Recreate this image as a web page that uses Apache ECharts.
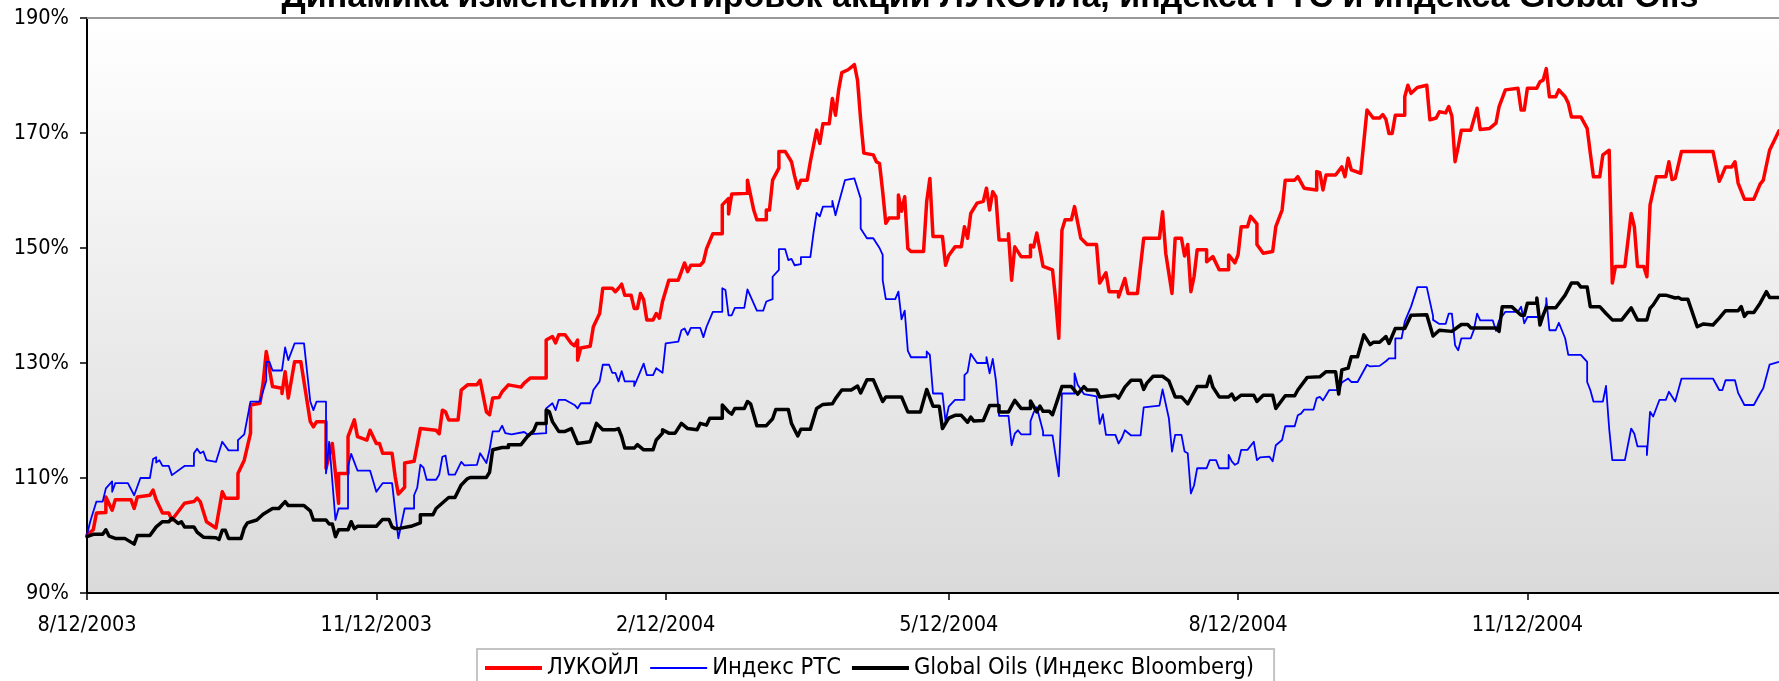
<!DOCTYPE html>
<html>
<head>
<meta charset="utf-8">
<title>ЛУКОЙЛ, РТС, Global Oils</title>
<script src="https://cdn.jsdelivr.net/npm/echarts@6/dist/echarts.min.js"></script>
<style>
  html, body { margin: 0; padding: 0; background: #fff; }
  #chart { width: 1779px; height: 681px; }
</style>
</head>
<body>
<div id="chart"></div>
<script>
// days counted from 12 Aug 2003, values in % of the start level
const startDate = '2003-08-12';
const endDay = 538;
const tickDates = ['2003-08-12', '2003-11-12', '2004-02-12', '2004-05-12', '2004-08-12', '2004-11-12'];

const lukoilDays = [0,2,3,6,6,8,9,14,15,16,20,21,22,24,26,27,31,34,35,36,38,41,43,44,48,48,50,52,52,55,56,57,59,62,62,63,64,66,68,71,72,73,76,76,78,80,80,83,83,85,86,89,90,92,93,94,97,98,99,101,101,104,106,111,112,113,114,115,118,119,121,124,125,127,128,129,131,132,134,138,139,141,146,146,148,149,150,152,154,155,156,156,157,160,161,163,164,167,168,169,170,171,173,174,175,176,177,178,180,181,182,183,185,188,189,190,191,192,195,196,197,199,202,202,204,204,205,210,210,212,213,216,216,217,218,220,220,222,224,225,226,227,229,230,232,233,234,236,237,238,239,240,242,244,245,246,247,250,251,252,253,254,255,258,258,259,260,261,262,266,267,268,269,272,273,274,276,278,279,280,281,283,285,286,287,288,289,290,293,293,294,295,297,300,300,301,302,304,307,308,309,310,311,313,314,316,318,321,322,324,325,328,328,330,331,334,336,341,342,343,345,346,348,349,350,351,352,353,356,356,358,360,363,363,365,366,367,369,370,372,372,374,377,378,380,381,384,385,387,391,391,392,393,394,397,399,400,401,402,405,407,409,411,412,413,414,415,416,419,419,420,421,423,426,427,429,430,432,433,434,435,436,437,440,442,443,446,448,449,451,455,456,457,458,461,462,463,464,465,467,468,470,471,472,475,477,478,479,481,482,484,485,486,489,491,492,493,495,496,497,499,502,503,504,505,507,517,519,520,521,523,524,525,527,530,532,533,535,538];
const lukoilValues = [100.1,101,103.9,104,106.7,104.4,106.2,106.2,104.7,106.7,107,107.9,106.2,103.9,103.9,102.7,105.6,105.9,106.5,105.9,102.4,101.3,107.6,106.5,106.5,110.8,113.1,117.8,122.7,123,126.5,132,125.9,125.6,124.7,128.5,123.9,130.2,130.2,119.8,118.9,119.8,119.8,111.7,116,105.6,110.8,110.8,117.2,120.1,117.2,116.6,118.3,116,116,114.3,114.3,110.2,107.2,108.4,112.6,112.9,118.6,118.3,117.7,121.8,121.5,120.1,120.1,125.3,126.2,126.2,127,121.5,121,123.9,124,125,126.2,125.8,126.5,127.4,127.4,134,134.6,133.5,134.9,134.9,133.4,133,134,130.5,132.6,132.9,136.3,138.6,143,143,142.4,143,143.7,141.8,141.8,139.5,139.5,142.1,141,137.5,137.5,138.6,137.8,140.7,144.4,144.4,145.9,147.4,145.9,147,147,147.6,149.9,152.5,152.5,157.5,158.6,155.9,159.4,159.5,161.8,156.6,154.9,154.9,156.6,156.6,161.8,163.9,166.8,166.8,165,162.5,160.4,161.8,161.8,165,170.5,168.2,171.6,171.6,176,173.1,177.5,180.5,181,181.9,179.2,172.3,166.5,166.2,165,164.7,159.8,154.3,155.2,155.2,159.2,156.4,158.9,149.9,149.4,149.4,158.1,162.1,152,152,147,148.7,150.2,150.2,153.7,151.7,156,157.8,158.1,160.4,156.6,159.8,158.9,151.4,151.4,152.5,144.4,150.2,148.5,148.5,150.5,150.2,152.6,146.8,146.2,141,134.3,153.1,154.9,154.9,157.2,151.7,150.6,150.6,143.9,145.7,142.4,142.4,141.5,144.7,142.1,142.1,151.7,151.7,156.3,149.1,142.1,151.7,151.7,148.6,150.6,142.4,145,149.7,149.7,147.6,148.5,146.2,146.2,148.8,147.4,148.8,153.7,153.7,155.5,154.2,150.6,149.1,149.4,153.7,156.6,161.8,161.8,162.4,160.4,160.1,163.3,163.1,160.1,162.7,162.7,164.1,162.4,165.6,163.6,163,174,172.6,172.6,173.2,172.4,169.9,169.9,173.1,173.1,176.3,178.3,176.9,177.9,178.3,172.3,172.6,173.7,173.5,174.6,172.9,165,167.6,170.5,170.5,174.3,170.6,170.8,171.7,174.6,177.5,177.8,174,174,177.8,177.8,178.9,179.2,181.2,176.3,176.3,177.5,176.3,175.2,172.8,172.8,170.8,166.5,162.4,162.4,166.2,167,143.9,146.8,146.8,156,153.7,146.8,146.8,145,157.5,162.4,162.4,165,161.9,162.1,166.8,166.8,161.6,162.8,164.1,164.1,165,161.3,158.5,158.5,161.1,161.8,167,170.4];

const rtsDays = [0,1,3,5,6,8,8,9,13,15,17,20,21,22,22,23,24,26,27,31,34,34,35,36,37,38,41,43,45,48,48,50,52,55,57,57,58,59,62,63,64,66,69,71,72,73,76,76,77,79,80,83,83,84,86,90,92,94,97,99,101,104,104,105,106,107,108,111,112,113,114,115,117,119,120,124,125,127,128,129,131,132,133,135,139,140,146,146,148,149,150,152,155,155,156,157,160,161,163,164,166,167,168,169,170,171,174,174,176,177,178,180,181,183,184,188,189,190,191,192,195,196,197,199,202,202,203,204,205,206,209,210,213,215,216,218,218,220,220,222,223,224,225,227,227,230,231,232,233,234,237,237,238,239,241,244,246,246,248,250,252,253,253,254,257,258,259,260,261,262,267,267,268,269,272,273,274,276,279,279,280,281,283,286,286,287,288,289,290,293,294,295,296,297,300,300,301,302,304,304,307,309,310,314,314,315,317,321,322,323,324,327,328,329,330,332,335,336,341,342,344,345,346,348,349,350,351,352,353,356,357,359,360,363,363,364,365,366,367,369,371,372,373,376,377,378,380,381,384,385,386,387,390,391,392,393,394,395,398,399,401,402,404,407,408,411,413,414,416,416,418,419,421,423,426,428,428,430,432,433,434,435,436,437,440,441,442,443,447,448,449,451,455,456,457,458,463,464,464,465,467,468,470,471,475,477,477,478,479,482,483,484,485,489,491,492,493,496,496,497,498,500,502,503,505,507,517,519,520,521,524,525,527,530,532,533,535,538];
const rtsValues = [100.1,102.4,105.9,105.9,108.2,109.4,107.6,109.1,109.1,107,110,110,113.3,113.6,112.7,113.1,112.1,112.1,110.5,112.1,112.1,114.3,115.1,114.3,114.6,113.1,112.8,116.3,114.8,114.8,116.6,117.6,123.3,123.3,126.9,130.2,130.2,128.7,128.7,132.7,130.5,133.4,133.4,123.3,121.8,123.3,123.3,110.8,116.3,102.7,104.7,104.7,112,114.2,111.3,111.3,107.6,109.1,109.1,99.5,104.7,104.7,107,108.3,112.3,111.8,109.7,109.7,110.6,113.7,113.9,110.6,110.6,112.8,112.2,112.3,114.3,112.6,114.9,118.1,118.1,119.1,117.8,117.6,118,117.6,117.8,122.1,123,121.8,123.6,123.6,122.7,123,122.1,123,123,125.3,126.8,129.7,129.7,128.3,128.3,126.8,128.6,126.8,126.8,126,128.6,129.9,127.9,127.9,129.1,128.3,133.4,133.7,135.7,136,134.9,136.1,136.1,134.5,136.3,138.9,138.9,143,142.7,138.3,138.3,139.6,139.6,142.8,139.1,139.1,140.7,141.1,145,146.2,149.8,149.8,147.9,148.1,147,147.2,148.4,148.4,152.6,156.1,155.5,157.2,157.2,158.2,155.7,157.8,161.8,162.1,158.6,153.4,151.7,151.7,150,148.8,144.4,141.1,141.1,142.4,137.6,139.1,132.1,131,131,132,131.4,124.7,124.7,119.8,122.4,123.6,123.6,127.9,128.4,131.6,130,130,131,128.2,130.7,127,120.8,120.8,115.7,117.7,118.3,117.6,117.6,119.9,121.4,122.3,118.1,117.4,117.4,110.3,124.7,124.7,128.2,126.2,124.6,124.2,119.4,121.1,117.5,117.5,116,116.9,118.3,117.4,117.4,122.3,122.6,125.4,120.4,114.6,117.5,117.5,114.6,114.3,107.3,108.7,111.7,111.7,113.1,113.1,111.7,111.7,114,112.9,112.3,112.6,114.9,114.9,116.3,113.1,113.6,113.7,112.9,115.7,116.6,119,119,120.9,121.2,121.9,121.9,123.9,124.1,123.5,124.4,125.3,125.3,126.6,127.3,126.7,126.7,129.7,129.4,129.5,130.3,130.8,130.8,134.3,134.3,137.2,139.8,143.2,143.2,138.2,137.5,136.8,136.8,138.6,138.6,133.1,132.2,134.3,134.3,135.8,138.6,137.4,137.4,135.6,137.4,138.9,138.9,139.8,136.9,138,138,140.4,141.3,135.7,135.7,137,134.3,131.4,131.4,130.2,126.7,125.3,123.3,123.3,126,118.6,113.1,113.1,118.6,117.7,115.5,115.5,114,121.5,120.7,123.6,123.6,125,123.3,127.3,127.3,125.3,125.3,127,127,124.8,122.7,122.7,124.7,125.6,129.7,130.2];

const oilsDays = [0,2,5,6,7,9,12,15,16,20,20,22,24,26,27,29,30,31,34,35,37,41,42,43,44,45,49,50,51,54,56,59,61,63,64,69,71,72,76,77,78,79,80,83,84,85,86,92,94,96,97,98,99,103,106,106,110,111,115,117,119,121,122,127,128,129,132,134,134,138,140,142,143,146,146,147,148,150,152,154,156,160,162,164,168,169,170,171,174,175,177,180,181,183,183,185,187,189,191,194,195,197,198,202,202,204,205,206,209,210,211,213,216,218,219,223,224,225,226,227,230,232,234,237,238,240,243,245,246,248,250,253,254,259,261,265,267,269,271,272,274,276,278,280,281,282,285,287,290,290,293,295,297,300,300,302,303,304,306,307,310,313,315,317,318,321,322,327,328,330,332,335,336,337,339,342,344,346,348,350,353,356,357,358,360,363,364,365,367,371,372,374,377,378,381,384,385,388,392,394,397,398,399,401,402,404,406,408,409,411,413,414,416,419,421,426,428,430,434,436,437,439,440,448,449,450,453,456,457,458,461,461,462,463,464,467,470,472,474,475,477,478,481,483,485,488,490,491,493,496,497,498,500,502,505,506,507,509,512,514,517,519,521,525,526,527,528,530,532,534,535,538];
const oilsValues = [99.8,100.2,100.2,101,99.9,99.5,99.5,98.5,100,100,99.7,101.5,102.4,102.4,103,102.1,102.4,101.5,101.5,100.6,99.7,99.6,99.3,100.9,100.9,99.5,99.5,101.3,102.2,102.7,103.7,104.7,104.7,105.9,105.2,105.2,104.3,102.7,102.7,102,102,99.8,101,101,102.4,101.2,101.6,101.6,102.8,102.8,101.5,101.2,101.2,101.6,102.2,103.6,103.6,104.7,106.6,106.6,108.8,109.9,110.1,110.1,111,114.9,115.3,115.3,115.8,115.8,117.2,118.2,119.5,119.5,121.8,121.5,119.8,118.1,118.1,118.6,116,116.3,119.5,118.4,118.4,118.6,117.2,115.2,115.2,115.8,114.9,114.9,116.6,117.8,118.4,117.8,117.8,119.5,118.6,118.4,119.5,119.2,120.4,120.4,122.7,121.5,121.1,122.1,122.1,123.3,122.9,119.1,119.1,120.3,121.9,121.9,119.5,118.4,117.3,118.5,118.5,122.1,122.8,122.9,123.8,125.3,125.3,126,124.8,127.1,127.1,123.3,124.1,124.1,121.5,121.5,125.4,122.5,122.5,118.6,120.4,120.9,120.9,119.7,120.6,119.9,120,122.6,122.6,121.5,121.5,123.5,122.1,122.1,123.4,121.5,122.5,121.6,121.6,121,125.9,125.9,124.6,125.9,125.3,125.3,124.1,124.4,123.9,125.8,127,127,125.4,126.5,127.7,127.7,126.9,124.1,124.1,122.9,125.9,125.9,127.7,125.8,124.1,124.1,124.6,123.6,124.4,124.4,123.3,124.4,124.4,122.1,124.3,124.3,125.3,127.5,127.6,128.5,128.5,124.6,128.8,129.1,131.1,131.1,134.9,133.2,133.6,133.6,134.6,133.4,136,136,138.3,138.4,134.7,135.7,135.5,136.3,136.7,136.7,136.1,136.1,135.5,139.8,139.8,138.3,138.3,140.4,140.4,141.3,136.6,138.3,139.6,139.6,141.8,143.9,143.9,143.2,143.2,139.8,139.8,138.6,137.5,137.5,138.9,139.6,137.5,137.5,139.5,140.1,141.8,141.8,141.3,141.4,141.1,141.1,136.3,136.8,136.6,137.8,139.1,139.1,139.8,138.1,138.8,138.8,140.4,142.4,141.4,141.4];

const DAY = 86400000;
function parseDate(s) {
  const p = s.split('-').map(Number);
  return Date.UTC(p[0], p[1] - 1, p[2]);
}
const t0 = parseDate(startDate);

// x axis is a plain value axis counted in days from startDate
function toPairs(days, values) {
  return days.map((d, i) => [d, values[i]]);
}

function fmtDay(v) {
  const d = new Date(t0 + v * DAY);
  return (d.getUTCMonth() + 1) + '/' + d.getUTCDate() + '/' + d.getUTCFullYear();
}

const labelFont = '"DejaVu Sans Condensed", "Liberation Sans Narrow", "DejaVu Sans", sans-serif';
const tickDays = tickDates.map(s => Math.round((parseDate(s) - t0) / DAY));

const chart = echarts.init(document.getElementById('chart'), null, { renderer: 'canvas' });

chart.setOption({
  animation: false,
  backgroundColor: '#ffffff',
  graphic: [{
    type: 'text',
    x: 990,
    y: -2,
    style: {
      text: 'Динамика изменения котировок акций ЛУКОЙЛа, индекса РТС и индекса Global Oils',
      font: 'bold 34px "Liberation Sans", Arial, sans-serif',
      fill: '#000',
      align: 'center',
      verticalAlign: 'middle'
    },
    z: 100
  }],
  grid: {
    left: 87,
    top: 18,
    right: 0,
    bottom: 88,
    show: true,
    borderWidth: 0,
    backgroundColor: new echarts.graphic.LinearGradient(0, 0, 0, 1, [
      { offset: 0, color: '#ffffff' },
      { offset: 1, color: '#dadada' }
    ])
  },
  legend: {
    left: 477,
    top: 649,
    padding: [7, 20, 10, 8],
    itemGap: 11,
    itemWidth: 57,
    itemHeight: 4,
    backgroundColor: '#ffffff',
    borderColor: '#c4c4c4',
    borderWidth: 2,
    textStyle: { fontSize: 23.5, color: '#000', fontFamily: labelFont },
    data: [
      { name: 'ЛУКОЙЛ', icon: 'rect' },
      { name: 'Индекс РТС', icon: 'path://M0,0H57V2H0Z' },
      { name: 'Global Oils (Индекс Bloomberg)', icon: 'rect' }
    ]
  },
  xAxis: [{
    type: 'value',
    min: 0,
    max: endDay,
    axisLine: { onZero: false, lineStyle: { color: '#000', width: 2 } },
    axisTick: { show: true, length: 7, customValues: tickDays, lineStyle: { color: '#000', width: 1.5 } },
    axisLabel: {
      customValues: tickDays,
      formatter: fmtDay,
      margin: 21,
      fontSize: 21.5,
      color: '#000',
      fontFamily: labelFont
    },
    splitLine: { show: false }
  }, {
    type: 'value',
    position: 'top',
    min: 0,
    max: endDay,
    axisLine: { onZero: false, lineStyle: { color: '#999999', width: 2 } },
    axisTick: { show: false },
    axisLabel: { show: false },
    splitLine: { show: false }
  }],
  yAxis: {
    type: 'value',
    min: 90,
    max: 190,
    interval: 20,
    axisLine: { show: true, lineStyle: { color: '#000', width: 2 } },
    axisTick: { show: true, length: 7, lineStyle: { color: '#000', width: 1.5 } },
    axisLabel: {
      formatter: '{value}%',
      margin: 18,
      fontSize: 21.5,
      color: '#000',
      fontFamily: labelFont
    },
    splitLine: { show: false }
  },
  series: [{
    name: 'ЛУКОЙЛ',
    type: 'line',
    symbol: 'none',
    data: toPairs(lukoilDays, lukoilValues),
    lineStyle: { color: '#ff0000', width: 3.5, join: 'round', cap: 'round' },
    itemStyle: { color: '#ff0000' }
  }, {
    name: 'Индекс РТС',
    type: 'line',
    symbol: 'none',
    data: toPairs(rtsDays, rtsValues),
    lineStyle: { color: '#0000ff', width: 1.8, join: 'round' },
    itemStyle: { color: '#0000ff' }
  }, {
    name: 'Global Oils (Индекс Bloomberg)',
    type: 'line',
    symbol: 'none',
    data: toPairs(oilsDays, oilsValues),
    lineStyle: { color: '#000000', width: 3.5, join: 'round', cap: 'round' },
    itemStyle: { color: '#000000' }
  }]
});
</script>
</body>
</html>
